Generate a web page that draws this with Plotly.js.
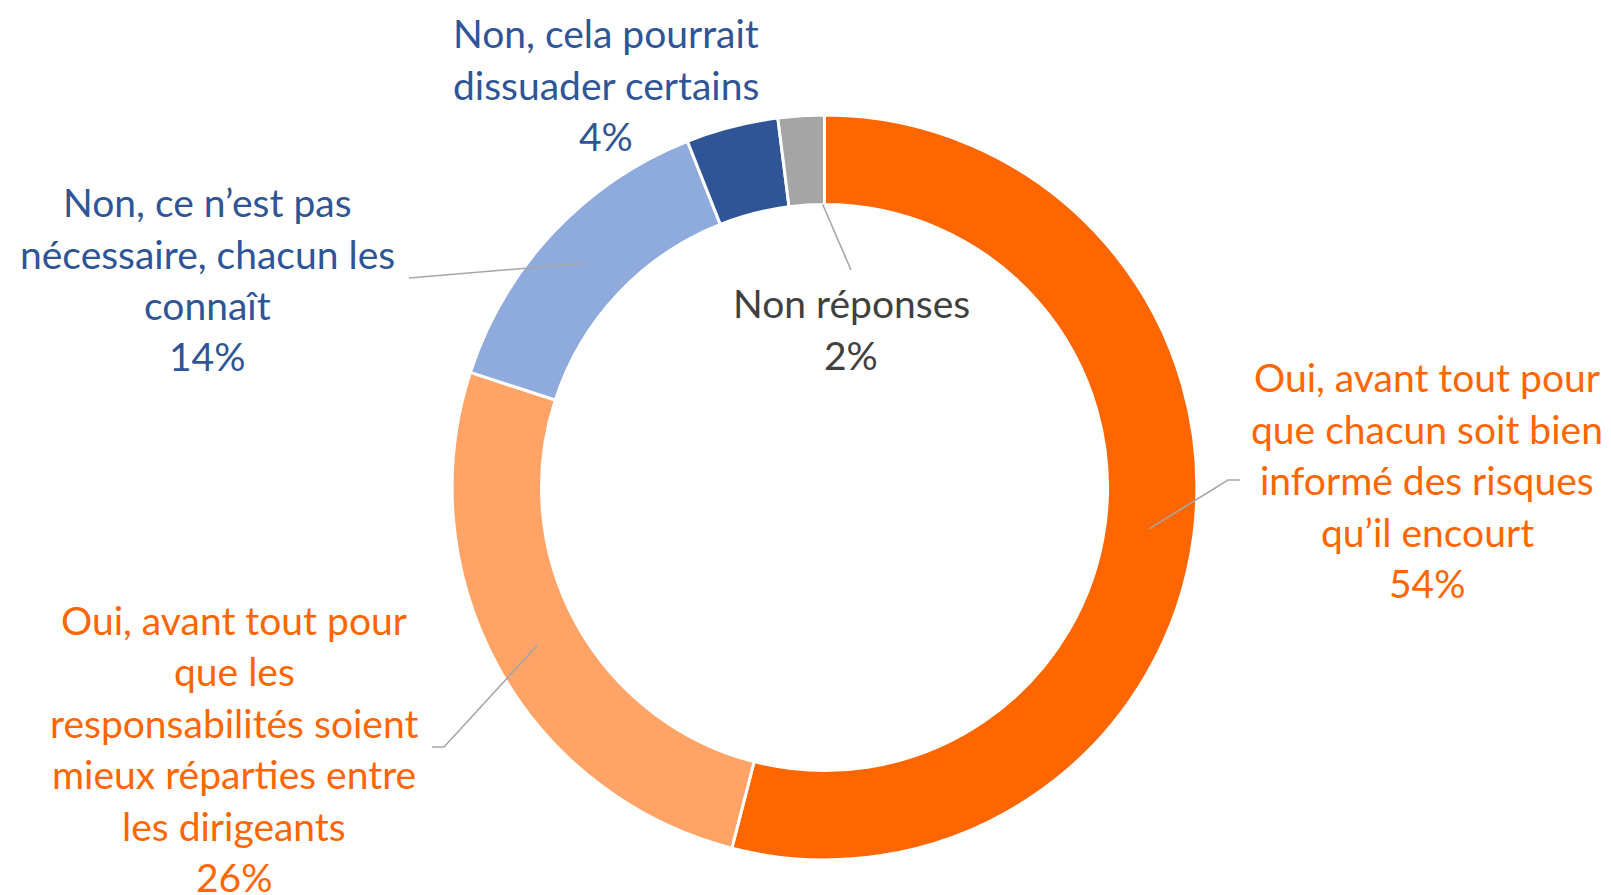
<!DOCTYPE html>
<html>
<head>
<meta charset="utf-8">
<script src="https://cdn.plot.ly/plotly-3.0.1.min.js"></script>
<style>
  html, body { margin: 0; padding: 0; background: #ffffff; }
  #chart { width: 1611px; height: 895px; }
</style>
</head>
<body>
<div id="chart"></div>
<script>
// ---- Data ----
const categories = [
  "Oui, avant tout pour\nque chacun soit bien\ninformé des risques\nqu’il encourt",
  "Oui, avant tout pour\nque les\nresponsabilités soient\nmieux réparties entre\nles dirigeants",
  "Non, ce n’est pas\nnécessaire, chacun les\nconnaît",
  "Non, cela pourrait\ndissuader certains",
  "Non réponses"
];
const values = [54, 26, 14, 4, 2];
const sliceColors = ["#FF6600", "#FFA466", "#8FAADC", "#2F5597", "#A5A5A5"];
const textColors = ["#FF6600", "#FF6600", "#2F5597", "#2F5597", "#404040"];

// ---- Layout constants (pixels) ----
const W = 1611, H = 895;
const CX = 824.5, CY = 487.5, R = 372.4, HOLE = 0.76;
const FONT = "Lato, 'Open Sans', sans-serif";
const FONT_SIZE = [39, 39, 39, 39, 39];
const LINE_STEP = 51.5;
// label block: center x, first line center y
const labelPos = [[1427, 377], [234, 619.5], [207, 202], [606, 33], [851, 303]];
// leader lines: label-side points, and anchor (fraction along slice, radius fraction)
const leaders = [
  {i: 0, pts: [[1240, 480], [1228, 480]], frac: 0.5, rf: (1 + HOLE) / 2},
  {i: 1, pts: [[432, 747], [444, 747]], frac: 0.5, rf: (1 + HOLE) / 2},
  {i: 2, pts: [[409, 278]], frac: 0.5, rf: (1 + HOLE) / 2},
  {i: 4, pts: [[851, 270]], frac: 0.95, rf: HOLE}
];

const px = x => x / W;
const py = y => 1 - y / H;

const total = values.reduce((a, b) => a + b, 0);
const cum = [];
let acc = 0;
values.forEach(v => { cum.push(acc); acc += v; });

function anchorPoint(i, frac, rf) {
  const ang = 2 * Math.PI * (cum[i] + values[i] * frac) / total;
  const r = R * rf;
  return [CX + r * Math.sin(ang), CY - r * Math.cos(ang)];
}

const annotations = [];
categories.forEach((cat, i) => {
  const lines = cat.split("\n").concat([values[i] + "%"]);
  lines.forEach((ln, k) => {
    annotations.push({
      xref: "paper", yref: "paper",
      x: px(labelPos[i][0]), y: py(labelPos[i][1] + k * LINE_STEP),
      xanchor: "center", yanchor: "middle",
      text: ln, showarrow: false,
      font: {family: FONT, size: FONT_SIZE[i], color: textColors[i]}
    });
  });
});

const shapes = leaders.map(L => {
  const a = anchorPoint(L.i, L.frac, L.rf);
  const pts = L.pts.concat([a]);
  const path = pts.map((p, k) => (k === 0 ? "M" : "L") + px(p[0]).toFixed(5) + "," + py(p[1]).toFixed(5)).join(" ");
  return {type: "path", xref: "paper", yref: "paper", path: path,
          line: {color: "#A6A6A6", width: 1.6}};
});

const trace = {
  type: "pie",
  labels: categories.map(c => c.replace(/\n/g, " ")),
  values: values,
  hole: HOLE,
  sort: false,
  direction: "clockwise",
  rotation: 0,
  textinfo: "none",
  marker: {colors: sliceColors, line: {color: "#FFFFFF", width: 3}},
  domain: {x: [px(CX - R), px(CX + R)], y: [py(CY + R), py(CY - R)]},
  showlegend: false
};

Plotly.newPlot("chart", [trace], {
  width: W, height: H,
  margin: {l: 0, r: 0, t: 0, b: 0},
  paper_bgcolor: "#FFFFFF",
  showlegend: false,
  annotations: annotations,
  shapes: shapes
}, {displayModeBar: false, staticPlot: true});
</script>
</body>
</html>
